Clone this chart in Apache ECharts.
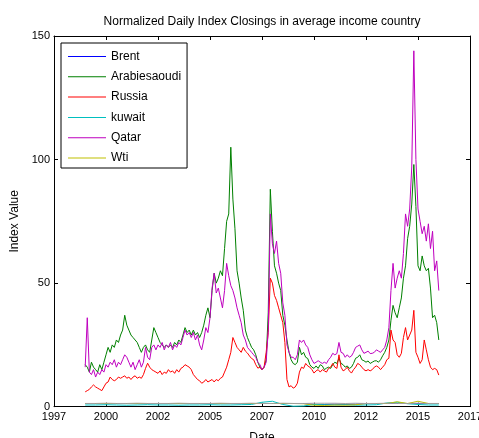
<!DOCTYPE html>
<html>
<head>
<meta charset="utf-8">
<script src="https://cdn.jsdelivr.net/npm/echarts@6/dist/echarts.min.js"></script>
<style>
  html, body { margin: 0; padding: 0; background: #fff; }
  #chart { width: 479px; height: 438px; }
</style>
</head>
<body>
<div id="chart"></div>
<script>
// x positions are in axis years; the tick labels are the ones printed under the axis
const axisStart = 1997;
const tickLabels = ["1997", "2000", "2002", "2005", "2007", "2010", "2012", "2015", "2017"];

const dates = Array.from({ length: 171 }, (_, i) => +(1998.5 + i * 0.1).toFixed(1));

const arabiesaoudi = [
  17, 16, 14, 18, 16, 15, 14, 17, 15, 18,
  21, 24, 22, 25, 24, 27, 26, 29, 31, 37,
  33, 31, 29, 28, 27, 26, 24, 22, 24, 25,
  23, 22, 27, 32, 30, 28, 26, 25, 24, 25,
  24, 25, 24, 26, 25, 27, 26, 29, 32, 30,
  31, 29, 31, 29, 30, 28, 30, 33, 37, 40,
  36, 47, 54, 50, 52, 55, 53, 64, 75, 78,
  105, 84, 72, 55, 50, 44, 39, 31, 28, 26,
  24, 23, 21, 18, 16, 15, 16, 19, 38, 88,
  71, 57, 54, 50, 47, 37, 33, 27, 22, 19,
  17.5, 17, 18, 24, 21, 22, 20, 19.5, 17, 16,
  15.5, 16.5, 15.5, 17, 16.5, 15, 15.6, 16, 15.5, 17,
  18, 17.5, 19.6, 17.5, 17, 16, 16.5, 15.5, 16, 17.5,
  19.6, 20, 21, 19, 18.6, 18, 18.5, 17.5, 18, 18.5,
  18.6, 18, 19, 20.6, 22, 24, 27, 35, 41, 38,
  36, 40, 44, 52, 57, 68, 73, 82, 98, 81,
  57, 55, 61, 57, 55, 56, 48, 36, 37, 34, 27
];

const russia = [
  6, 6.5, 7, 8, 8.8, 8, 7.5, 7, 6.5, 8,
  9.5, 10, 12, 11, 10.5, 11, 12, 11.5, 12, 12.5,
  11.5, 12, 11, 12, 12.5, 11.5, 12, 11.5, 13, 15.5,
  17.6, 16, 15, 14.5, 14, 13.5, 14.5, 13, 14, 13.5,
  15, 14, 14.5, 13.5, 15, 14, 15.5, 16, 17, 16.5,
  16, 15, 13, 12, 11, 10.5, 9.5, 10, 11, 10,
  10.5, 11, 10, 11, 10.5, 11.5, 12, 14, 16, 19,
  22, 28, 26, 24, 23, 22, 24, 22.5, 21.7, 20.5,
  19.5, 19, 17, 15.6, 16, 15, 16, 22, 30, 52,
  50, 45, 43, 40, 37, 34, 26, 11, 8, 8.5,
  7.5, 8, 9.5, 14, 16, 15.5, 17.5, 16.5, 16, 15,
  13.6, 14.5, 15, 14, 15, 14.5, 14, 15.5, 16, 17.5,
  16, 15.5, 21, 16, 14.5, 15, 16, 14.5, 13.6, 15,
  16, 17.5, 17, 16, 15, 14.5, 15, 14.5, 15, 16,
  16.5, 16, 15, 16, 17, 19, 19.6, 31, 27, 26,
  21, 20, 21.6, 28, 32, 27, 29, 31, 39, 22,
  20, 17.5, 19, 27, 23, 19, 16, 15, 15.5, 15, 12.8
];

const qatar = [
  16, 36, 14, 13, 15, 12, 14, 13, 15, 14,
  17, 16, 18, 17, 19, 16, 18, 17, 19, 21,
  20, 18, 16, 18, 15, 17, 19, 16, 18, 24,
  20, 19, 24, 25, 23, 25, 24, 26, 23, 25,
  24, 26, 23, 25, 24, 26, 25, 28, 31, 29,
  30, 28, 30, 27, 29, 25, 23, 27, 32, 30,
  36, 48, 54, 46, 48, 44, 40, 47, 58, 53,
  49, 47, 44, 40, 37, 34, 29, 27, 24, 23,
  22, 21, 20, 18, 17, 15, 16, 18, 31, 78,
  66, 62, 67, 58, 54, 42, 37, 25, 22, 20,
  20, 19, 21, 27, 26, 27, 25, 24, 21, 19,
  17.5, 18, 18.6, 18, 17.5, 18, 17.5, 19, 20, 21.6,
  21, 21.5, 26, 22, 21.6, 20, 21, 20, 20.5, 22,
  24, 24.5, 25, 23, 21.6, 22, 22.5, 21.5, 21.6, 22,
  23, 22.5, 22, 23, 24, 27, 32, 47, 58, 48,
  52, 55, 52, 62, 78, 73, 80, 97, 144, 100,
  80, 75, 70, 73, 67, 74, 64, 71, 55, 59, 47
];

// the flat series near zero, sampled every half year
const flatDates = Array.from({ length: 35 }, (_, i) => 1998.5 + i * 0.5);

const brent = [
  1.3, 1.3, 1.3, 1.3, 1.3, 1.3, 1.3, 1.3, 1.3, 1.3,
  1.3, 1.3, 1.3, 1.3, 1.3, 1.3, 1.3, 1.3, 1.3, 1.3,
  1.3, 1.3, 0.9, 0.9, 1.0, 0.9, 1.0, 1.3, 1.3, 1.3,
  1.3, 1.3, 1.3, 1.3, 1.3
];
const kuwait = [
  0.7, 0.7, 0.8, 0.7, 0.6, 0.7, 0.8, 0.7, 0.7, 0.6,
  0.7, 0.7, 0.8, 0.7, 0.7, 0.8, 0.9, 1.8, 2.2, 0.9,
  0.2, 0.3, 0.9, 0.8, 0.7, 0.8, 0.6, 0.7, 0.8, 1.5,
  1.8, 1.2, 0.9, 0.7, 0.7
];
const wti = [
  1.3, 1.3, 1.3, 1.3, 1.3, 1.3, 1.3, 1.3, 1.3, 1.3,
  1.3, 1.3, 1.3, 1.3, 1.3, 1.3, 1.3, 1.3, 1.3, 1.3,
  1.3, 1.2, 0.6, 0.5, 0.7, 0.6, 0.8, 1.3, 1.3, 1.3,
  2.0, 1.3, 2.2, 1.3, 1.3
];
const other = [
  1.3, 1.3, 1.4, 1.3, 1.3, 1.4, 1.3, 1.3, 1.3, 1.4,
  1.3, 1.3, 1.3, 1.4, 1.3, 1.3, 1.4, 1.3, 1.3, 1.4,
  1.3, 1.3, 1.4, 1.4, 1.4, 1.3, 1.4, 1.3, 1.3, 1.4,
  1.3, 1.3, 1.4, 1.3, 1.3
];

const seriesNames = ["Brent", "Arabiesaoudi", "Russia", "kuwait", "Qatar", "Wti"];
const seriesColors = ["#0000ff", "#008000", "#ff0000", "#00bfbf", "#bf00bf", "#bfbf00"];

const toPoints = (xs, ys) => xs.map((x, i) => [x - axisStart, ys[i]]);

const chart = echarts.init(document.getElementById("chart"), null, { renderer: "canvas" });

const font = "'Liberation Sans', Arial, sans-serif";
// thin horizontal stroke across a 38x14 legend slot
const legendLine = "path://M0,0L0,14M0,6.5L38,6.5L38,7.5L0,7.5Z";
const boxAxis = {
  axisLine: { show: true, onZero: false, lineStyle: { color: "#000", width: 1 } },
  axisTick: { show: true, inside: true, length: 4, lineStyle: { color: "#000" } },
  splitLine: { show: false }
};

function lineSeries(name, points, color) {
  return {
    name: name,
    type: "line",
    data: points,
    symbol: "none",
    showSymbol: false,
    silent: true,
    lineStyle: { color: color, width: 1 },
    itemStyle: { color: color }
  };
}

chart.setOption({
  animation: false,
  backgroundColor: "#fff",
  textStyle: { fontFamily: font },
  title: {
    text: "Normalized Daily Index Closings in average income country",
    left: 262,
    textAlign: "center",
    top: 16,
    padding: 0,
    textStyle: { fontSize: 12, fontWeight: "normal", color: "#000", fontFamily: font }
  },
  grid: { left: 54, right: 9, top: 36, bottom: 31.3, outerBoundsMode: "none", containLabel: false },
  legend: {
    data: seriesNames.map((n, i) => ({ name: n, icon: legendLine, itemStyle: { color: seriesColors[i] } })),
    orient: "vertical",
    left: 61,
    top: 43,
    padding: [6.5, 6, 3, 7],
    itemWidth: 38,
    itemHeight: 14,
    itemGap: 6.3,
    backgroundColor: "#fff",
    borderColor: "#000",
    borderWidth: 1,
    selectedMode: false,
    textStyle: { fontSize: 12, color: "#000", lineHeight: 14, fontFamily: font }
  },
  xAxis: [
    Object.assign({
      type: "value",
      position: "bottom",
      min: 0,
      max: 20,
      interval: 2.5,
      name: "Date",
      nameLocation: "middle",
      nameGap: 25,
      nameTextStyle: { fontSize: 12, color: "#000", fontFamily: font },
      axisLabel: {
        margin: 5,
        fontSize: 11,
        color: "#000",
        fontFamily: font,
        formatter: (v) => tickLabels[Math.round(v / 2.5)]
      }
    }, boxAxis),
    Object.assign({
      type: "value",
      position: "top",
      min: 0,
      max: 20,
      interval: 2.5,
      axisLabel: { show: false }
    }, boxAxis)
  ],
  yAxis: [
    Object.assign({
      type: "value",
      position: "left",
      min: 0,
      max: 150,
      interval: 50,
      name: "Index Value",
      nameLocation: "middle",
      nameGap: 31,
      nameTextStyle: { fontSize: 12, color: "#000", fontFamily: font },
      axisLabel: { margin: 4, fontSize: 11, color: "#000", fontFamily: font }
    }, boxAxis),
    Object.assign({
      type: "value",
      position: "right",
      min: 0,
      max: 150,
      interval: 50,
      axisLabel: { show: false }
    }, boxAxis)
  ],
  series: [
    lineSeries("Brent", toPoints(flatDates, brent), seriesColors[0]),
    lineSeries("Arabiesaoudi", toPoints(dates, arabiesaoudi), seriesColors[1]),
    lineSeries("Russia", toPoints(dates, russia), seriesColors[2]),
    lineSeries("kuwait", toPoints(flatDates, kuwait), seriesColors[3]),
    lineSeries("Qatar", toPoints(dates, qatar), seriesColors[4]),
    lineSeries("Wti", toPoints(flatDates, wti), seriesColors[5]),
    lineSeries("other", toPoints(flatDates, other), "#a0a0a0")
  ]
});
</script>
</body>
</html>
